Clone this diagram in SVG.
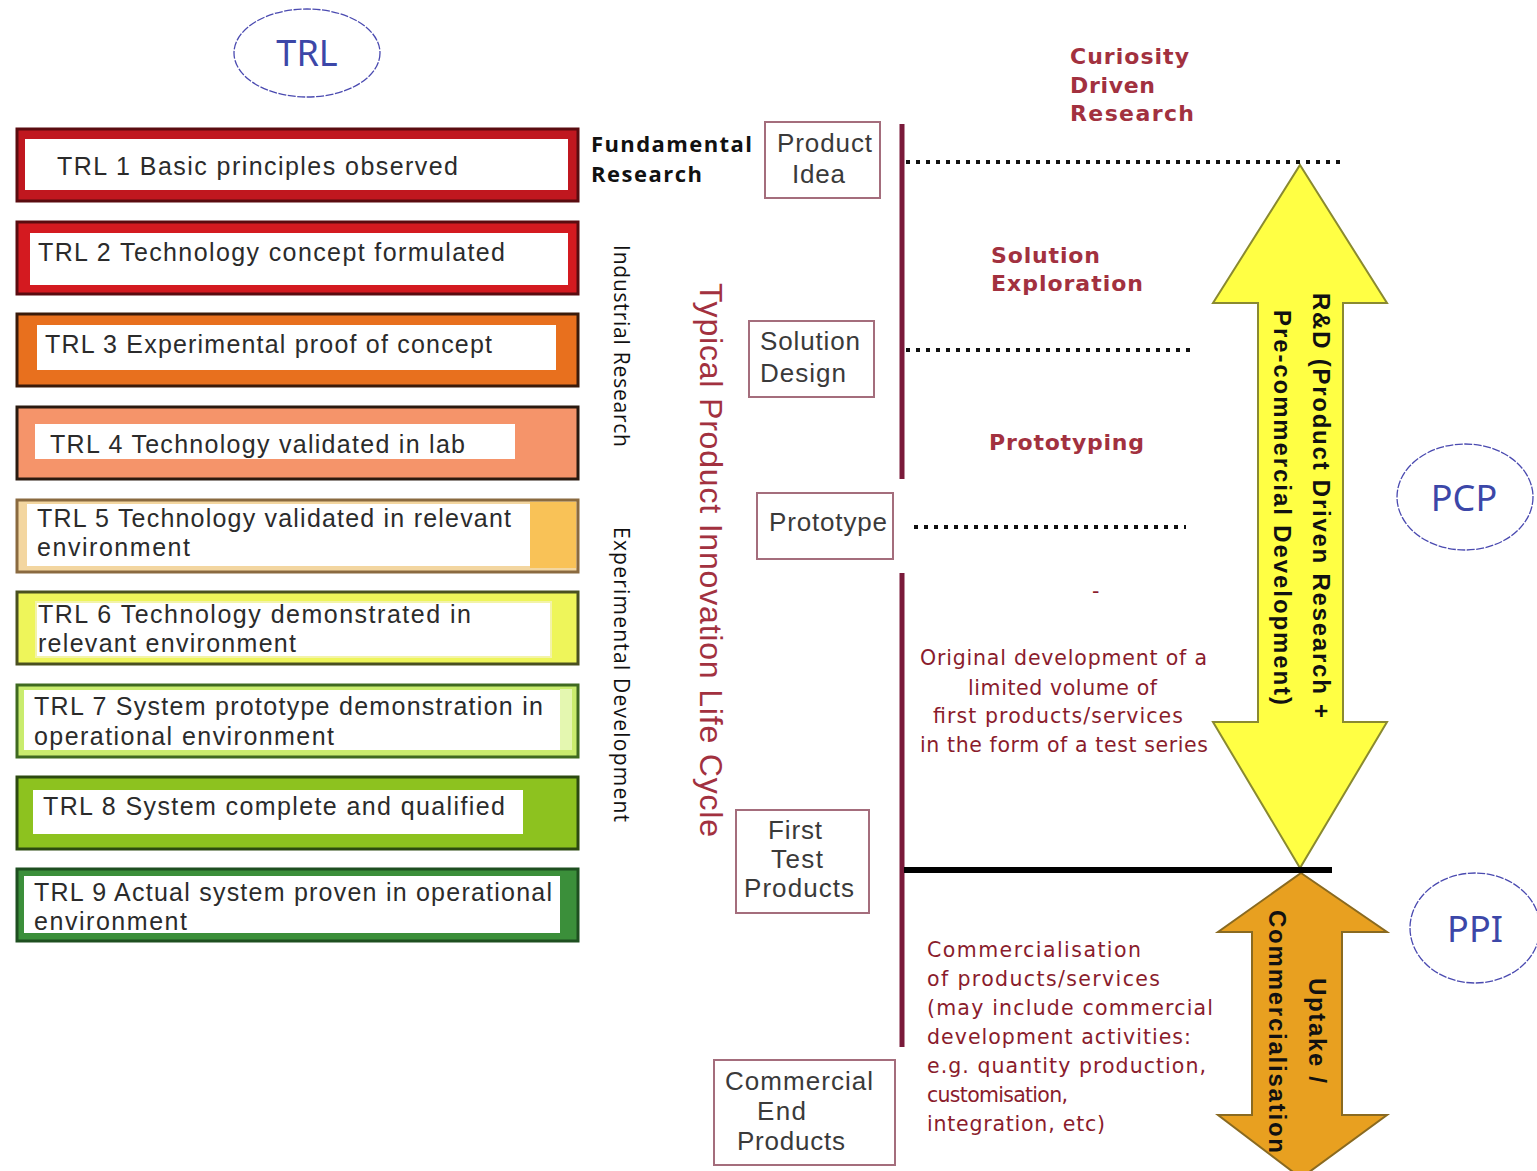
<svg xmlns="http://www.w3.org/2000/svg" width="1537" height="1171" viewBox="0 0 1537 1171">
<style>
.trl{font-family:"Liberation Sans",Arial,sans-serif;font-size:25px;fill:#2b2b2b}
.inner{fill:#fff}
.box{fill:#fff;stroke:#a46d7c;stroke-width:2}
.bt{font-family:"Liberation Sans",Arial,sans-serif;font-size:26px;fill:#3a3a3a}
.ph{font-family:"DejaVu Sans",Verdana,sans-serif;font-weight:bold;font-size:22px;fill:#a2313f}
.ds{font-family:"DejaVu Sans",Verdana,sans-serif;font-size:20.5px;fill:#8a1c2c}
.blk{font-family:"Open Sans","DejaVu Sans",sans-serif;font-weight:bold;font-size:22px;fill:#111}
.vt{font-family:"Open Sans","Liberation Sans",sans-serif;font-size:21px;fill:#111}
.life{font-family:"Liberation Sans",Arial,sans-serif;font-size:32px;fill:#a2313f}
.arr{font-family:"Liberation Sans",Arial,sans-serif;font-weight:bold;font-size:24px;fill:#111}
.ell{fill:none;stroke:#4a4ab0;stroke-width:1.3;stroke-dasharray:8 1.5}
.et{font-family:"Noto Sans","Open Sans",sans-serif;font-size:36px;fill:#3c47a8}
.dot{stroke:#111;stroke-width:4;stroke-dasharray:4 6}
.vline{stroke:#7a1a3a;stroke-width:5}
</style>

<g id="trl-label">
<ellipse class="ell" cx="307" cy="53" rx="73" ry="44"/>
<text class="et" x="307" y="66" text-anchor="middle">TRL</text>
</g>
<g id="pcp-label">
<ellipse class="ell" cx="1465" cy="497" rx="68" ry="53"/>
<text class="et" x="1464" y="511" text-anchor="middle">PCP</text>
</g>
<g id="ppi-label">
<ellipse class="ell" cx="1475" cy="928" rx="65" ry="55"/>
<text class="et" x="1475" y="942" text-anchor="middle">PPI</text>
</g>

<g id="trl1">
<rect x="17" y="129" width="561" height="72" fill="#c0171f" stroke="#5a0c10" stroke-width="3"/>
<rect class="inner" x="25" y="139" width="543" height="51"/>
<text class="trl" x="57" y="175" textLength="401">TRL 1 Basic principles observed</text>
</g>
<g id="trl2">
<rect x="17" y="222" width="561" height="72" fill="#d41a20" stroke="#5a0c10" stroke-width="3"/>
<rect class="inner" x="30" y="233" width="538" height="52"/>
<text class="trl" x="38" y="261" textLength="467">TRL 2 Technology concept formulated</text>
</g>
<g id="trl3">
<rect x="17" y="314" width="561" height="72" fill="#e8701e" stroke="#3a1a0a" stroke-width="3"/>
<rect class="inner" x="37" y="325" width="519" height="45"/>
<text class="trl" x="45" y="353" textLength="447">TRL 3 Experimental proof of concept</text>
</g>
<g id="trl4">
<rect x="17" y="407" width="561" height="72" fill="#f5946a" stroke="#2a1a10" stroke-width="3"/>
<rect class="inner" x="35" y="424" width="480" height="35"/>
<text class="trl" x="50" y="453" textLength="415">TRL 4 Technology validated in lab</text>
</g>
<g id="trl5">
<rect x="17" y="500" width="561" height="72" fill="#f3d6a0" stroke="#8a6a40" stroke-width="3"/>
<rect x="530" y="502" width="46" height="66" fill="#f9c257"/>
<rect class="inner" x="27" y="504" width="503" height="62"/>
<text class="trl" x="37" y="527" textLength="474">TRL 5 Technology validated in relevant</text>
<text class="trl" x="37" y="556" textLength="153">environment</text>
</g>
<g id="trl6">
<rect x="17" y="592" width="561" height="72" fill="#eef55a" stroke="#4a5020" stroke-width="3"/>
<rect x="36" y="602" width="515" height="55" fill="#fff" stroke="#f3f3a8" stroke-width="2"/>
<text class="trl" x="38" y="623" textLength="433">TRL 6 Technology demonstrated in</text>
<text class="trl" x="38" y="652" textLength="258">relevant environment</text>
</g>
<g id="trl7">
<rect x="17" y="685" width="561" height="72" fill="#c9ec6e" stroke="#3f6a20" stroke-width="3"/>
<rect x="560" y="689" width="12" height="61" fill="#e4f7b0"/>
<rect class="inner" x="24" y="690" width="536" height="60"/>
<text class="trl" x="34" y="715" textLength="509">TRL 7 System prototype demonstration in</text>
<text class="trl" x="34" y="745" textLength="300">operational environment</text>
</g>
<g id="trl8">
<rect x="17" y="777" width="561" height="72" fill="#8dc21f" stroke="#2c4a10" stroke-width="3"/>
<rect class="inner" x="33" y="790" width="490" height="44"/>
<text class="trl" x="43" y="815" textLength="462">TRL 8 System complete and qualified</text>
</g>
<g id="trl9">
<rect x="17" y="869" width="561" height="72" fill="#3b8f3a" stroke="#1e4f20" stroke-width="3"/>
<rect class="inner" x="24" y="876" width="536" height="57"/>
<text class="trl" x="34" y="901" textLength="518">TRL 9 Actual system proven in operational</text>
<text class="trl" x="34" y="930" textLength="153">environment</text>
</g>

<g id="research-labels">
<text class="blk" x="591" y="152" textLength="161">Fundamental</text>
<text class="blk" x="591" y="182" textLength="111">Research</text>
<text class="vt" transform="translate(614,245) rotate(90)" textLength="202">Industrial Research</text>
<text class="vt" transform="translate(614,527) rotate(90)" textLength="295">Experimental Development</text>
</g>
<g id="life-cycle-label">
<text class="life" transform="translate(700,283) rotate(90)" textLength="554">Typical Product Innovation Life Cycle</text>
</g>

<g id="product-idea">
<rect class="box" x="765" y="122" width="115" height="76"/>
<text class="bt" x="777" y="152" textLength="95">Product</text>
<text class="bt" x="792" y="183" textLength="53">Idea</text>
</g>
<g id="solution-design">
<rect class="box" x="749" y="321" width="125" height="76"/>
<text class="bt" x="760" y="350" textLength="100">Solution</text>
<text class="bt" x="760" y="382" textLength="86">Design</text>
</g>
<g id="prototype">
<rect class="box" x="757" y="493" width="136" height="66"/>
<text class="bt" x="769" y="531" textLength="118">Prototype</text>
</g>
<g id="first-test-products">
<rect class="box" x="736" y="810" width="133" height="103"/>
<text class="bt" x="768" y="839" textLength="54">First</text>
<text class="bt" x="771" y="868" textLength="52">Test</text>
<text class="bt" x="744" y="897" textLength="110">Products</text>
</g>
<g id="commercial-end-products">
<rect class="box" x="714" y="1060" width="181" height="105"/>
<text class="bt" x="725" y="1090" textLength="148">Commercial</text>
<text class="bt" x="757" y="1120" textLength="49">End</text>
<text class="bt" x="737" y="1150" textLength="108">Products</text>
</g>

<g id="phase-labels">
<text class="ph" x="1070" y="64" textLength="119">Curiosity</text>
<text class="ph" x="1070" y="93" textLength="85">Driven</text>
<text class="ph" x="1070" y="121" textLength="124">Research</text>
<text class="ph" x="991" y="263" textLength="109">Solution</text>
<text class="ph" x="991" y="291" textLength="152">Exploration</text>
<text class="ph" x="989" y="450" textLength="155">Prototyping</text>
<text class="ds" x="1092" y="598">-</text>
<text class="ds" x="920" y="665" textLength="287">Original development of a</text>
<text class="ds" x="968" y="695" textLength="189">limited volume of</text>
<text class="ds" x="933" y="723" textLength="250">first products/services</text>
<text class="ds" x="920" y="752" textLength="288">in the form of a test series</text>
<text class="ds" x="927" y="957" textLength="214">Commercialisation</text>
<text class="ds" x="927" y="986" textLength="233">of products/services</text>
<text class="ds" x="927" y="1015" textLength="286">(may include commercial</text>
<text class="ds" x="927" y="1044" textLength="264">development activities:</text>
<text class="ds" x="927" y="1073" textLength="279">e.g. quantity production,</text>
<text class="ds" x="927" y="1102" textLength="141">customisation,</text>
<text class="ds" x="927" y="1131" textLength="178">integration, etc)</text>
</g>

<g id="rd-arrow">
<polygon points="1300,165 1387,303 1343,303 1343,722 1387,722 1300,868 1213,722 1258,722 1258,303 1213,303" fill="#ffff44" stroke="#8a8a30" stroke-width="2"/>
<text class="arr" transform="translate(1313,293) rotate(90)" textLength="425">R&amp;D (Product Driven Research +</text>
<text class="arr" transform="translate(1274,310) rotate(90)" textLength="395">Pre-commercial Development)</text>
</g>
<g id="uptake-arrow">
<polygon points="1301,873 1387,932 1342,932 1342,1115 1387,1115 1301,1178 1218,1115 1252,1115 1252,932 1218,932" fill="#e8a020" stroke="#8a6a20" stroke-width="2"/>
<text class="arr" transform="translate(1309,978) rotate(90)" textLength="105">Uptake /</text>
<text class="arr" transform="translate(1269,910) rotate(90)" textLength="243">Commercialisation</text>
</g>

<g id="connectors">
<line class="vline" x1="902" y1="124" x2="902" y2="479"/>
<line class="vline" x1="902" y1="573" x2="902" y2="1047"/>
<line class="dot" x1="906" y1="162" x2="1340" y2="162"/>
<line class="dot" x1="906" y1="350" x2="1196" y2="350"/>
<line class="dot" x1="914" y1="527" x2="1186" y2="527"/>
<line x1="904" y1="870" x2="1332" y2="870" stroke="#000" stroke-width="6"/>
</g>
</svg>
